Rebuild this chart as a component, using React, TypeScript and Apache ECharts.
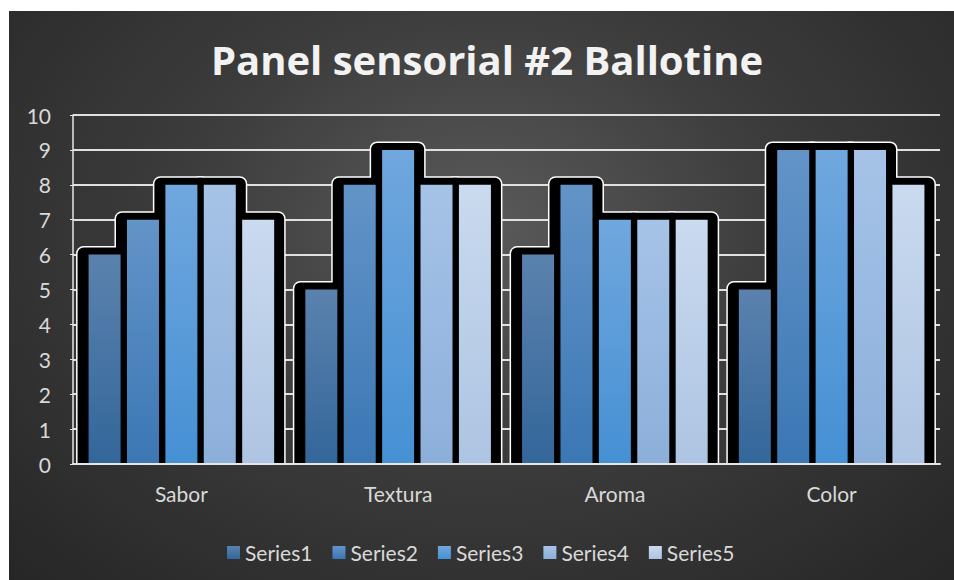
import React, { useEffect, useRef } from "react";
import * as echarts from "echarts";

// Sensory panel scores per attribute
const categories = ["Sabor", "Textura", "Aroma", "Color"];
const seriesNames = ["Series1", "Series2", "Series3", "Series4", "Series5"];
const series1 = [6, 5, 6, 5];
const series2 = [7, 8, 8, 9];
const series3 = [8, 9, 7, 9];
const series4 = [8, 8, 7, 9];
const series5 = [7, 8, 7, 8];
const yTicks = [0, 1, 2, 3, 4, 5, 6, 7, 8, 9, 10];

const allSeries = [series1, series2, series3, series4, series5];

// top / bottom colours of each series' vertical gradient
const barColors: [string, string][] = [
  ["#5b82ae", "#33669a"],
  ["#6394c8", "#3b77b4"],
  ["#70a7de", "#4590d4"],
  ["#a6c3e7", "#8cafda"],
  ["#cadaef", "#adc4e2"],
];

const BAR_W = 32;
const GAP_RATIO = 0.2;
const BAR_GAP = BAR_W * GAP_RATIO;

const grad = (c: [string, string]) =>
  new echarts.graphic.LinearGradient(0, 0, 0, 1, [
    { offset: 0, color: c[0] },
    { offset: 1, color: c[1] },
  ]);

// black halo with white rim drawn behind each bar
const haloData: number[][] = [];
allSeries.forEach((vals, s) =>
  vals.forEach((v, c) => haloData.push([c, v, s]))
);

const makeHalo = (pad: number, fill: string) => (params: any, api: any) => {
  const c = api.value(0);
  const v = api.value(1);
  const s = api.value(2);
  const [cx, yTop] = api.coord([c, v]);
  const [, y0] = api.coord([c, 0]);
  const groupW = 5 * BAR_W + 4 * BAR_GAP;
  const x = cx - groupW / 2 + s * (BAR_W + BAR_GAP);
  const left = x - 11 - pad;
  const top = yTop - 7 - pad;
  const width = BAR_W + 21 + pad * 2;
  const height = y0 - 1 - top;
  return {
    type: "rect",
    shape: { x: left, y: top, width, height, r: [6 + pad, 6 + pad, 0, 0] },
    style: { fill },
  };
};

export default function App() {
  const ref = useRef<HTMLDivElement>(null);

  useEffect(() => {
    if (!ref.current) return;
    const chart = echarts.init(ref.current, null, { renderer: "svg" });
    const font = "Lato, 'Open Sans', sans-serif";
    chart.setOption({
      animation: false,
      backgroundColor: "transparent",
      graphic: [
        {
          type: "text",
          x: 478,
          y: 48,
          style: {
            text: "Panel sensorial #2 Ballotine",
            fill: "#f2f2f2",
            font: "bold 40px 'Open Sans', Lato, sans-serif",
            textAlign: "center",
            textVerticalAlign: "middle",
          },
        },
      ],
      legend: {
        data: seriesNames,
        top: 526,
        left: 213,
        icon: "rect",
        itemWidth: 13,
        itemHeight: 13,
        itemGap: 20,
        textStyle: { color: "#d9d9d9", fontSize: 21, fontFamily: font },
      },
      grid: { left: 64, right: 14, top: 104, bottom: 116 },
      xAxis: {
        type: "category",
        data: categories,
        axisLine: { show: true, lineStyle: { color: "#e6e6e6", width: 2 } },
        axisTick: { show: false },
        axisLabel: {
          color: "#d9d9d9",
          fontSize: 21,
          fontFamily: font,
          margin: 19,
        },
        z: 5,
      },
      yAxis: {
        type: "value",
        min: yTicks[0],
        max: yTicks[yTicks.length - 1],
        interval: 1,
        axisLine: { show: true, lineStyle: { color: "#e6e6e6", width: 1.5 } },
        axisTick: { show: true, length: 3, lineStyle: { color: "#e6e6e6" } },
        axisLabel: {
          color: "#d9d9d9",
          fontSize: 21,
          fontFamily: font,
          margin: 22,
        },
        splitLine: { lineStyle: { color: "#e0e0e0", width: 2 } },
      },
      series: [
        {
          type: "custom",
          name: "haloRim",
          z: 1,
          silent: true,
          renderItem: makeHalo(1.5, "#ffffff"),
          encode: { x: 0, y: 1 },
          data: haloData,
          legendHoverLink: false,
        },
        {
          type: "custom",
          name: "haloCore",
          z: 2,
          silent: true,
          renderItem: makeHalo(0, "#000000"),
          encode: { x: 0, y: 1 },
          data: haloData,
          legendHoverLink: false,
        },
        ...allSeries.map((vals, i) => ({
          type: "bar",
          name: seriesNames[i],
          data: vals,
          barWidth: BAR_W,
          barGap: `${GAP_RATIO * 100}%`,
          z: 3,
          itemStyle: { color: grad(barColors[i]) },
        })),
      ],
    });
    return () => chart.dispose();
  }, []);

  return (
    <div
      ref={ref}
      style={{
        position: "absolute",
        left: 9,
        top: 11,
        width: 945,
        height: 569,
        background:
          "radial-gradient(ellipse farthest-corner at 50% 38%, #5a5a5a 0%, #3c3c3c 45%, #262626 100%)",
      }}
    />
  );
}
